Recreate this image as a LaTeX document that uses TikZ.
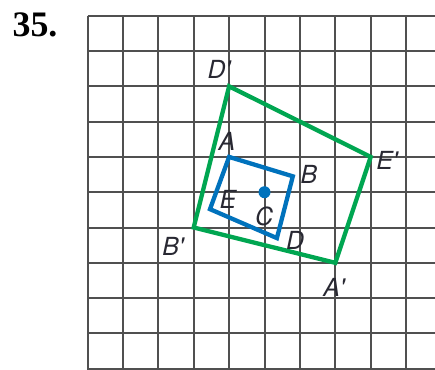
\documentclass[tikz,border=0pt]{standalone}
\usepackage{fontspec}
\setmainfont{TeX Gyre Heros}
\newfontfamily\numfont{Liberation Serif}
\definecolor{gridgray}{RGB}{80,80,80}
\definecolor{imggreen}{RGB}{0,166,81}
\definecolor{imgblue}{RGB}{0,114,188}
\definecolor{labelink}{RGB}{40,40,50}
\tikzset{
  gridline/.style={draw=gridgray, line width=2bp},
  bigfig/.style={draw=imggreen, line width=4.3bp, line join=miter},
  smallfig/.style={draw=imgblue, line width=4.3bp, line join=miter},
  ptlabel/.style={inner sep=0pt, text=labelink, font=\fontsize{25}{25}\selectfont\itshape},
  centerdot/.style={circle, fill=imgblue, inner sep=0pt, minimum size=12bp}
}
\begin{document}
\begin{tikzpicture}[x=1bp, y=-1bp]
\useasboundingbox (0,0) rectangle (435,369);
\fill[white] (0,0) rectangle (435,369);
\begin{scope}
  \clip (0,0) rectangle (435,369);
  \foreach \i in {0,...,9}
    \draw[gridline] (87.5+35.4*\i,15.7) -- (87.5+35.4*\i,380);
  \foreach \j in {0,...,10}
    \draw[gridline] (87.5,15.7+35.3*\j) -- (445,15.7+35.3*\j);
\end{scope}
\node[inner sep=0pt, font=\numfont\bfseries\fontsize{36}{36}\selectfont] (num) at (35,25) {35.};
\begin{scope}[shift={(87.5,15.7)}, x=35.4bp, y=-35.3bp]
  \coordinate (Dp) at (4,2);
  \coordinate (Ep) at (8,4);
  \coordinate (Ap) at (7,7);
  \coordinate (Bp) at (3,6);
  \coordinate (A) at (4,4);
  \coordinate (B) at (5.8,4.55);
  \coordinate (D) at (5.35,6.3);
  \coordinate (E) at (3.46,5.48);
  \node[centerdot] (C) at (5,5) {};
\end{scope}
\draw[bigfig] (Dp) -- (Ep) -- (Ap) -- (Bp) -- cycle;
\draw[smallfig] (A) -- (B) -- (D) -- (E) -- cycle;
\node[ptlabel] (lDp) at (219,69) {D\textquotesingle};
\node[ptlabel] (lEp) at (387,160) {E\textquotesingle};
\node[ptlabel] (lAp) at (334,287) {A\textquotesingle};
\node[ptlabel] (lBp) at (173,246) {B\textquotesingle};
\node[ptlabel] (lA) at (227,141) {A};
\node[ptlabel] (lB) at (309,174) {B};
\node[ptlabel] (lE) at (228,199) {E};
\node[ptlabel] (lC) at (264,216) {C};
\node[ptlabel] (lD) at (295,240) {D};
\end{tikzpicture}
\end{document}
